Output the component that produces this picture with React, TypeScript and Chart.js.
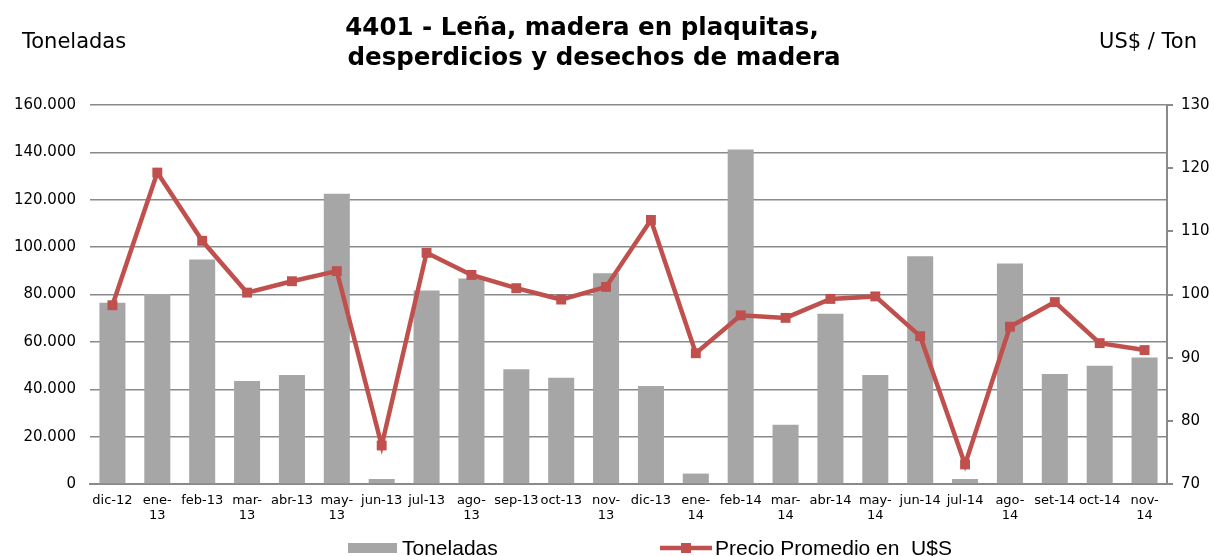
import React, { useEffect, useRef } from "react";
import { Chart, registerables } from "chart.js";

Chart.register(...registerables);

const categories: string[][] = [
  ["dic-12"], ["ene-", "13"], ["feb-13"], ["mar-", "13"], ["abr-13"], ["may-", "13"],
  ["jun-13"], ["jul-13"], ["ago-", "13"], ["sep-13"], ["oct-13"], ["nov-", "13"],
  ["dic-13"], ["ene-", "14"], ["feb-14"], ["mar-", "14"], ["abr-14"], ["may-", "14"],
  ["jun-14"], ["jul-14"], ["ago-", "14"], ["set-14"], ["oct-14"], ["nov-", "14"],
];

const toneladas: number[] = [
  76500, 80200, 94800, 43500, 46000, 122500, 2100, 81700, 86800, 48400, 44900, 89000,
  41400, 4400, 141200, 25000, 71900, 46000, 96100, 2100, 93100, 46400, 49900, 53400,
];

const precio: number[] = [
  98.3, 119.3, 108.5, 100.3, 102.1, 103.7, 76.1, 106.6, 103.1, 101.0, 99.2, 101.2,
  111.8, 90.7, 96.7, 96.3, 99.3, 99.7, 93.4, 73.1, 94.9, 98.8, 92.3, 91.2,
];

const titleLines: string[] = ["4401 - Leña, madera en plaquitas,", "desperdicios y desechos de madera"];
const leftAxisTitle = "Toneladas";
const rightAxisTitle = "US$ / Ton";
const barLabel = "Toneladas";
const lineLabel = "Precio Promedio en  U$S";

const leftMin = 0;
const leftMax = 160000;
const leftStep = 20000;
const rightMin = 70;
const rightMax = 130;
const rightStep = 10;

const BAR_COLOR = "#a6a6a6";
const LINE_COLOR = "#c0504d";
const GRID_COLOR = "#8a8a8a";

function fmtThousands(v: number): string {
  const s = Math.round(v).toString();
  return s.replace(/\B(?=(\d{3})+(?!\d))/g, ".");
}

const textPlugin = {
  id: "textPlugin",
  afterDraw(chart: any) {
    const ctx = chart.ctx as CanvasRenderingContext2D;
    ctx.save();
    ctx.fillStyle = "#000";
    // title
    ctx.font = "bold 24.5px 'DejaVu Sans', Verdana, sans-serif";
    ctx.textAlign = "center";
    ctx.textBaseline = "middle";
    ctx.fillText(titleLines[0], 582, 29);
    ctx.fillText(titleLines[1], 594, 59);
    // axis headers
    ctx.font = "21px 'DejaVu Sans', Verdana, sans-serif";
    ctx.textAlign = "left";
    ctx.fillText(leftAxisTitle, 22, 43);
    ctx.textAlign = "right";
    ctx.fillText(rightAxisTitle, 1197, 43);
    // legend
    ctx.fillStyle = BAR_COLOR;
    ctx.fillRect(348, 543, 49, 10);
    ctx.fillStyle = "#000";
    ctx.font = "21px 'Liberation Sans Narrow', 'Liberation Sans', Arial, sans-serif";
    ctx.textAlign = "left";
    ctx.textBaseline = "alphabetic";
    ctx.fillText(barLabel, 402, 555);
    ctx.strokeStyle = LINE_COLOR;
    ctx.lineWidth = 4.5;
    ctx.beginPath();
    ctx.moveTo(660, 548);
    ctx.lineTo(712, 548);
    ctx.stroke();
    ctx.fillStyle = LINE_COLOR;
    ctx.fillRect(681, 543, 10, 10);
    ctx.fillStyle = "#000";
    ctx.fillText(lineLabel, 715, 555);
    ctx.restore();
  },
};

export default function App() {
  const ref = useRef<HTMLCanvasElement | null>(null);

  useEffect(() => {
    document.body.style.margin = "0";
    const canvas = ref.current;
    if (!canvas) return;
    const chart = new Chart(canvas, {
      type: "bar",
      data: {
        labels: categories,
        datasets: [
          {
            type: "line",
            label: lineLabel,
            data: precio,
            yAxisID: "yRight",
            borderColor: LINE_COLOR,
            backgroundColor: LINE_COLOR,
            borderWidth: 4.5,
            pointStyle: "rect",
            pointRadius: 7,
            pointBackgroundColor: LINE_COLOR,
            pointBorderColor: LINE_COLOR,
            pointBorderWidth: 0,
            tension: 0,
            order: 1,
          } as any,
          {
            type: "bar",
            label: barLabel,
            data: toneladas,
            yAxisID: "yLeft",
            backgroundColor: BAR_COLOR,
            borderWidth: 0,
            categoryPercentage: 1,
            barPercentage: 0.58,
            order: 2,
          } as any,
        ],
      },
      options: {
        responsive: false,
        animation: false,
        events: [],
        layout: { padding: { top: 105, left: 0, right: 0, bottom: 32 } },
        plugins: {
          legend: { display: false },
          title: { display: false },
          tooltip: { enabled: false },
        },
        scales: {
          x: {
            grid: { display: false, drawTicks: false },
            border: { display: true, color: GRID_COLOR, width: 2 },
            ticks: {
              autoSkip: false,
              maxRotation: 0,
              minRotation: 0,
              padding: 9,
              color: "#000",
              font: { family: "'DejaVu Sans', Verdana, sans-serif", size: 13, lineHeight: 1.15 },
            },
            afterFit: (scale: any) => {
              scale.height = 40;
            },
          },
          yLeft: {
            type: "linear",
            position: "left",
            min: leftMin,
            max: leftMax,
            grid: { display: true, drawTicks: false, color: GRID_COLOR, lineWidth: 1.5 },
            border: { display: false },
            ticks: {
              stepSize: leftStep,
              padding: 14,
              color: "#000",
              font: { family: "'DejaVu Sans', Verdana, sans-serif", size: 15 },
              callback: (v: any) => fmtThousands(Number(v)),
            },
            afterFit: (scale: any) => {
              scale.width = 90;
            },
          },
          yRight: {
            type: "linear",
            position: "right",
            min: rightMin,
            max: rightMax,
            grid: { drawOnChartArea: false, drawTicks: true, tickLength: 6, color: GRID_COLOR, lineWidth: 2 },
            border: { display: true, color: GRID_COLOR, width: 2 },
            ticks: {
              stepSize: rightStep,
              padding: 8,
              color: "#000",
              font: { family: "'DejaVu Sans', Verdana, sans-serif", size: 15 },
            },
            afterFit: (scale: any) => {
              scale.width = 47;
            },
          },
        },
      } as any,
      plugins: [textPlugin],
    });
    return () => chart.destroy();
  }, []);

  return (
    <div style={{ position: "absolute", left: 0, top: 0, width: 1214, height: 556, background: "#fff" }}>
      <canvas ref={ref} width={1214} height={556} style={{ display: "block", width: 1214, height: 556 }} />
    </div>
  );
}
